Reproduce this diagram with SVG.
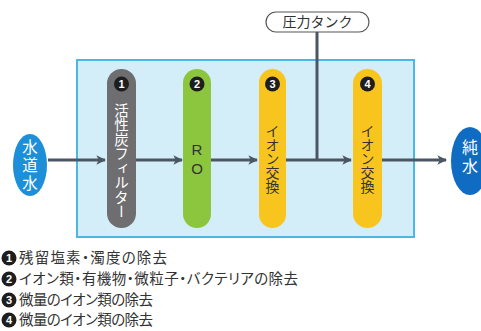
<svg xmlns="http://www.w3.org/2000/svg" width="481" height="331" viewBox="0 0 481 331">
<style>
.jp{font-family:"Noto Sans CJK JP","Noto Sans",sans-serif}
.conn{stroke:#4a5662;stroke-width:3;fill:none}
.num{fill:#1e1e1e}
.numt{fill:#fff;font-family:"Liberation Sans",Arial,sans-serif;font-weight:bold;font-size:11px;text-anchor:middle}
.vt{font-family:"Noto Sans CJK JP",sans-serif;font-size:14px;writing-mode:vertical-rl}
.leg{font-family:"Noto Sans CJK JP",sans-serif;font-size:14.5px;fill:#333;font-feature-settings:"palt"}
</style>
<defs>
<marker id="ah" viewBox="0 0 10 10" refX="9" refY="5" markerWidth="3.2" markerHeight="3.2" orient="auto" markerUnits="strokeWidth">
<path d="M0,0 L10,5 L0,10 L2.5,5 Z" fill="#4a5662"/>
</marker>
</defs>
<rect width="481" height="331" fill="#fff"/>
<g id="box">
<rect x="77" y="60" width="337" height="177" fill="#d3edf9" stroke="#4cb6e4" stroke-width="2"/>
</g>
<g id="connectors">
<line class="conn" x1="48" y1="160" x2="105" y2="160" marker-end="url(#ah)"/>
<line class="conn" x1="136" y1="160" x2="182" y2="160" marker-end="url(#ah)"/>
<line class="conn" x1="211" y1="160" x2="257" y2="160" marker-end="url(#ah)"/>
<line class="conn" x1="286" y1="160" x2="351" y2="160" marker-end="url(#ah)"/>
<line class="conn" x1="382" y1="160" x2="446" y2="160" marker-end="url(#ah)"/>
<line class="conn" x1="317" y1="32" x2="317" y2="160"/>
</g>
<g id="tank">
<rect x="266" y="12" width="103" height="20" rx="10" fill="#fff" stroke="#555" stroke-width="1.2"/>
<text class="jp" x="317.5" y="27" font-size="14" fill="#333" text-anchor="middle">圧力タンク</text>
</g>
<g id="src">
<ellipse cx="30" cy="165" rx="17" ry="31" fill="#1d8fd8"/>
<text class="vt" x="30" y="139" fill="#fff" style="font-size:15.5px;letter-spacing:2.5px">水道水</text>
</g>
<g id="n1">
<rect x="107" y="69" width="29" height="159" rx="14.5" fill="#6e6e70"/>
<circle class="num" cx="121.5" cy="84" r="7.5"/>
<text class="numt" x="121.5" y="88">1</text>
<text class="vt" x="121.5" y="103" fill="#fff" style="font-size:14.5px">活性炭フィルター</text>
</g>
<g id="n2">
<rect x="183" y="69" width="28" height="159" rx="14" fill="#8cc63e"/>
<circle class="num" cx="197" cy="84" r="7.5"/>
<text class="numt" x="197" y="88">2</text>
<text font-family="Liberation Sans,Arial,sans-serif" font-size="15" fill="#333" text-anchor="middle"><tspan x="197" y="155">R</tspan><tspan x="197" y="174">O</tspan></text>
</g>
<g id="n3">
<rect x="259" y="69" width="27" height="159" rx="13.5" fill="#f8c51e"/>
<circle class="num" cx="272.5" cy="84" r="7.5"/>
<text class="numt" x="272.5" y="88">3</text>
<text class="vt" x="272.5" y="124" fill="#333">イオン交換</text>
</g>
<g id="n4">
<rect x="353" y="69" width="29" height="159" rx="14.5" fill="#f8c51e"/>
<circle class="num" cx="367.5" cy="84" r="7.5"/>
<text class="numt" x="367.5" y="88">4</text>
<text class="vt" x="367.5" y="124" fill="#333">イオン交換</text>
</g>
<g id="dst">
<ellipse cx="470" cy="161" rx="19" ry="34" fill="#0f6cc2"/>
<text class="vt" x="470" y="139" fill="#fff" style="font-size:16px;letter-spacing:3px">純水</text>
</g>
<g id="legend">
<circle class="num" cx="9" cy="258" r="7.5"/><text class="numt" x="9" y="262">1</text>
<text class="leg" x="19" y="263" textLength="148" lengthAdjust="spacing">残留塩素・濁度の除去</text>
<circle class="num" cx="9" cy="279" r="7.5"/><text class="numt" x="9" y="283">2</text>
<text class="leg" x="19" y="284" textLength="279" lengthAdjust="spacing">イオン類・有機物・微粒子・バクテリアの除去</text>
<circle class="num" cx="9" cy="300" r="7.5"/><text class="numt" x="9" y="304">3</text>
<text class="leg" x="19" y="305" textLength="134" lengthAdjust="spacing">微量のイオン類の除去</text>
<circle class="num" cx="9" cy="320" r="7.5"/><text class="numt" x="9" y="324">4</text>
<text class="leg" x="19" y="325" textLength="134" lengthAdjust="spacing">微量のイオン類の除去</text>
</g>
</svg>
